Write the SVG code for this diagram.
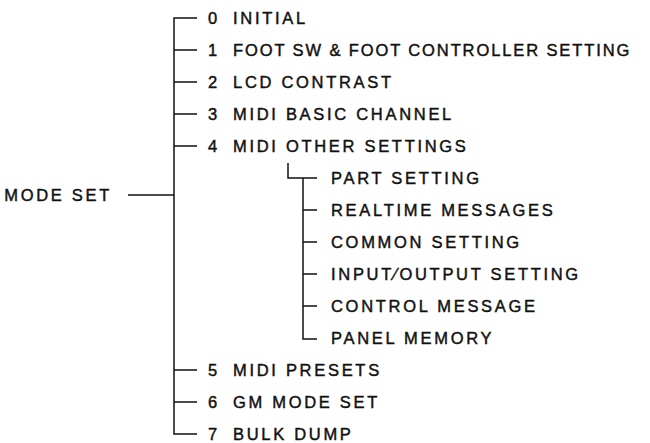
<svg xmlns="http://www.w3.org/2000/svg" width="650" height="443" viewBox="0 0 650 443">
<style>
text{font-family:"Liberation Sans",Arial,sans-serif;font-size:16.5px;letter-spacing:2.7px;fill:#111;stroke:#111;stroke-width:0.45px}
.c{stroke:#111;stroke-width:1.5;fill:none}
</style>
<rect width="650" height="443" fill="#fff"/>
<g id="connectors">
<path class="c" d="M128 195H174M197 18H174V434H197M174 50H197M174 82H197M174 114H197M174 146H197M174 370H197M174 402H197"/>
<path class="c" d="M288 163V178H317M303 178V339H317M303 210H317M303 242H317M303 274H317M303 306H317"/>
</g>
<g id="root"><text x="112" y="201" text-anchor="end">MODE SET</text></g>
<g id="n0"><text x="208" y="24">0</text><text x="233" y="24">INITIAL</text></g>
<g id="n1"><text x="208" y="56">1</text><text x="233" y="56" textLength="399" lengthAdjust="spacing">FOOT SW &amp; FOOT CONTROLLER SETTING</text></g>
<g id="n2"><text x="208" y="88">2</text><text x="233" y="88">LCD CONTRAST</text></g>
<g id="n3"><text x="208" y="120">3</text><text x="233" y="120">MIDI BASIC CHANNEL</text></g>
<g id="n4"><text x="208" y="152">4</text><text x="233" y="152">MIDI OTHER SETTINGS</text></g>
<g id="s1"><text x="331" y="184">PART SETTING</text></g>
<g id="s2"><text x="331" y="216">REALTIME MESSAGES</text></g>
<g id="s3"><text x="331" y="248">COMMON SETTING</text></g>
<g id="s4"><text x="331" y="280">INPUT⁄OUTPUT SETTING</text></g>
<g id="s5"><text x="331" y="312">CONTROL MESSAGE</text></g>
<g id="s6"><text x="331" y="344">PANEL MEMORY</text></g>
<g id="n5"><text x="208" y="376">5</text><text x="233" y="376">MIDI PRESETS</text></g>
<g id="n6"><text x="208" y="408">6</text><text x="233" y="408">GM MODE SET</text></g>
<g id="n7"><text x="208" y="440">7</text><text x="233" y="440">BULK DUMP</text></g>
</svg>
